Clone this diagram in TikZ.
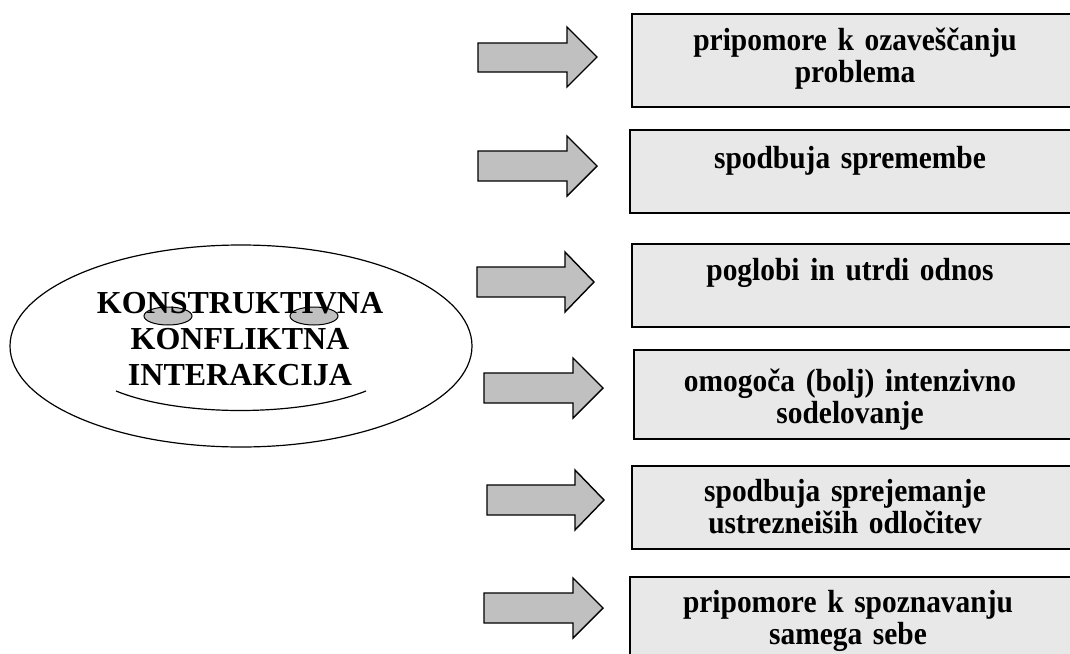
\documentclass[tikz,border=0pt]{standalone}
\usepackage{fontspec}
\setmainfont{Liberation Serif}
\newfontfamily\boxfont{Liberation Serif}[FakeStretch=0.92,WordSpace=0.8]
\usetikzlibrary{shapes.geometric}
\definecolor{boxgray}{RGB}{232,232,232}
\definecolor{arrowgray}{RGB}{192,192,192}

\begin{document}
\begin{tikzpicture}[x=1pt,y=-1pt,
    box/.style={draw=black, line width=1.5pt, fill=boxgray, inner sep=0pt, anchor=north west, minimum width=449pt},
    blockarrow/.style={draw=black, line width=1.4pt, fill=arrowgray, line join=miter},
    boxtext/.style={anchor=base, inner sep=0pt, text width=440pt, align=center, font=\boxfont\fontsize{32}{32}\selectfont\bfseries},
    eye/.style={draw=black, ellipse, line width=1pt, fill=arrowgray, minimum width=48pt, minimum height=18pt, inner sep=0pt}]
    \useasboundingbox (0,0) rectangle (1070,653);
    \clip (0,0) rectangle (1070,653);
    % face
    \node[draw=black, ellipse, line width=1.2pt, minimum width=462pt, minimum height=202pt] (face) at (241,346) {};
    \node[eye] (eyeL) at (168,316) {};
    \node[eye] (eyeR) at (314,316) {};
    \node[anchor=base, inner sep=0pt, text width=400pt, align=center, font=\fontsize{32}{36}\selectfont\bfseries] (title) at (240,313) {KONSTRUKTIVNA\\ KONFLIKTNA\\ INTERAKCIJA};
    \draw[line width=1.2pt] (116,391) .. controls (180,417) and (300,417) .. (366,391);
    % arrows
    \draw[blockarrow] (478,43)--(567,43)--(567,27)--(597,57)--(567,87)--(567,72)--(478,72)--cycle;
    \draw[blockarrow] (478,151)--(567,151)--(567,136)--(597,166)--(567,196)--(567,181)--(478,181)--cycle;
    \draw[blockarrow] (477,267)--(565,267)--(565,252)--(594,282)--(565,312)--(565,297)--(477,297)--cycle;
    \draw[blockarrow] (484,373)--(573,373)--(573,358)--(603,388)--(573,418)--(573,403)--(484,403)--cycle;
    \draw[blockarrow] (487,485)--(575,485)--(575,470)--(604,500)--(575,530)--(575,515)--(487,515)--cycle;
    \draw[blockarrow] (484,593)--(573,593)--(573,578)--(603,608)--(573,638)--(573,623)--(484,623)--cycle;
    % boxes
    \node[box, minimum height=93pt] (box1) at (631,13) {};
    \node[box, minimum height=83pt] (box2) at (629,129) {};
    \node[box, minimum height=83pt] (box3) at (631,243) {};
    \node[box, minimum height=89pt] (box4) at (633,349) {};
    \node[box, minimum height=83pt] (box5) at (631,465) {};
    \node[box, minimum height=90pt] (box6) at (629,576) {};
    \node[boxtext] (t1) at (855,50) {pripomore k ozaveščanju\\ problema};
    \node[boxtext] (t2) at (850,168) {spodbuja spremembe};
    \node[boxtext] (t3) at (850,280) {poglobi in utrdi odnos};
    \node[boxtext] (t4) at (850,391) {omogoča (bolj) intenzivno\\ sodelovanje};
    \node[boxtext] (t5) at (845,501) {spodbuja sprejemanje\\ ustrezneiših odločitev};
    \node[boxtext] (t6) at (848,612) {pripomore k spoznavanju\\ samega sebe};
\end{tikzpicture}
\end{document}
